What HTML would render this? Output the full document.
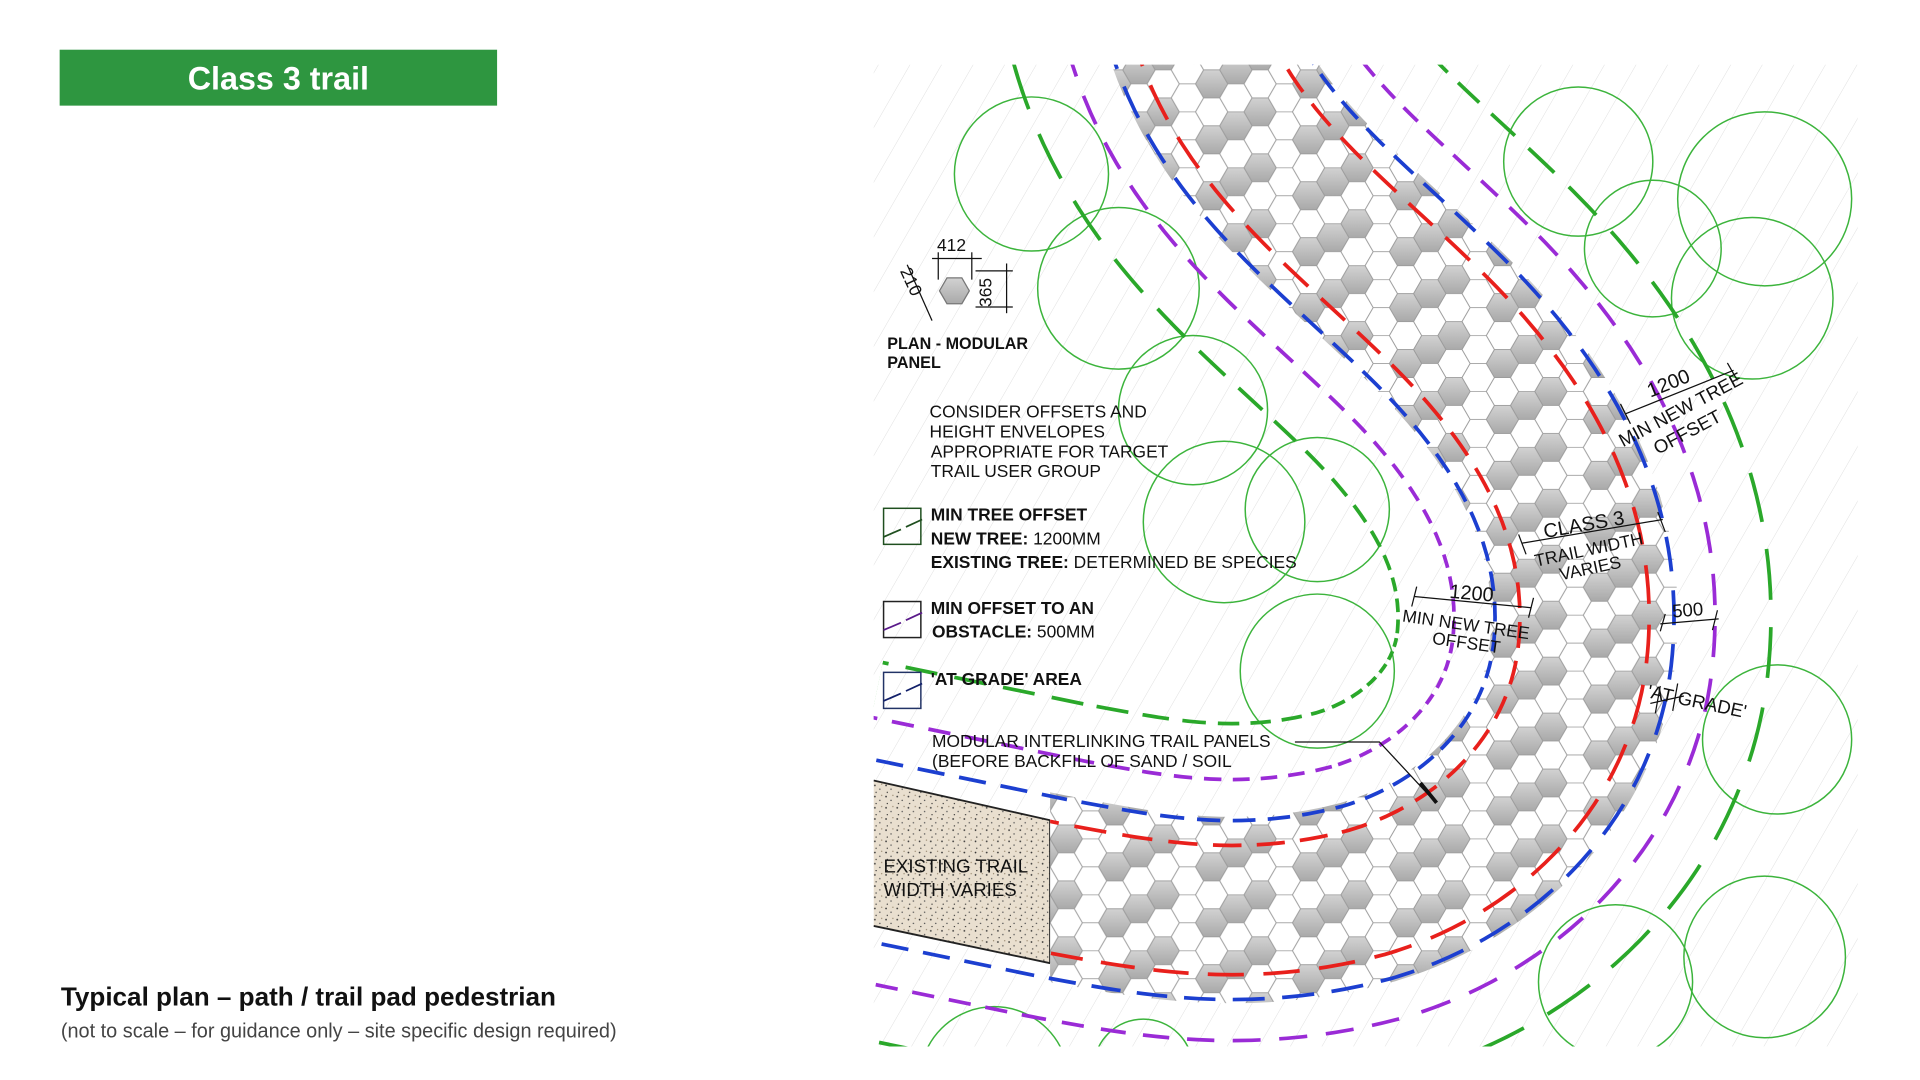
<!DOCTYPE html>
<html><head><meta charset="utf-8"><style>
html,body{margin:0;padding:0;background:#fff;width:1920px;height:1080px;overflow:hidden;}
svg{display:block;}
text{font-family:"Liberation Sans",sans-serif;}
</style></head><body>
<svg width="1920" height="1080" viewBox="0 0 1545 869" preserveAspectRatio="none" xmlns="http://www.w3.org/2000/svg">
<defs>
<linearGradient id="hg" x1="0" y1="0" x2="0" y2="1"><stop offset="0" stop-color="#d2d2d2"/><stop offset="1" stop-color="#a9a9a9"/></linearGradient>
<pattern id="hatch" width="22" height="22" patternUnits="userSpaceOnUse" patternTransform="rotate(30)">
<line x1="0" y1="0" x2="0" y2="22" stroke="#dcdcdc" stroke-width="0.7"/></pattern>
<pattern id="hex" width="78" height="45" patternUnits="userSpaceOnUse" x="0" y="0">
<g stroke="#9a9a9a" stroke-width="0.7">
<path d="M-13 0L-6.5 -11.26L6.5 -11.26L13 0L6.5 11.26L-6.5 11.26Z" fill="url(#hg)"/>
<path d="M65 0L71.5 -11.26L84.5 -11.26L91 0L84.5 11.26L71.5 11.26Z" fill="url(#hg)"/>
<path d="M-13 45L-6.5 33.74L6.5 33.74L13 45L6.5 56.26L-6.5 56.26Z" fill="url(#hg)"/>
<path d="M65 45L71.5 33.74L84.5 33.74L91 45L84.5 56.26L71.5 56.26Z" fill="url(#hg)"/>
<path d="M26 0L32.5 -11.26L45.5 -11.26L52 0L45.5 11.26L32.5 11.26Z" fill="#fff"/>
<path d="M26 45L32.5 33.74L45.5 33.74L52 45L45.5 56.26L32.5 56.26Z" fill="#fff"/>
<path d="M-13 22.5L-6.5 11.24L6.5 11.24L13 22.5L6.5 33.76L-6.5 33.76Z" fill="#fff"/>
<path d="M65 22.5L71.5 11.24L84.5 11.24L91 22.5L84.5 33.76L71.5 33.76Z" fill="#fff"/>
<path d="M26 22.5L32.5 11.24L45.5 11.24L52 22.5L45.5 33.76L32.5 33.76Z" fill="url(#hg)"/>
<path d="M6.5 11.25L13 0L26 0L32.5 11.25L26 22.5L13 22.5Z" fill="#fff"/>
<path d="M45.5 11.25L52 0L65 0L71.5 11.25L65 22.5L52 22.5Z" fill="url(#hg)"/>
<path d="M6.5 33.75L13 22.5L26 22.5L32.5 33.75L26 45L13 45Z" fill="#fff"/>
<path d="M45.5 33.75L52 22.5L65 22.5L71.5 33.75L65 45L52 45Z" fill="#fff"/>
</g></pattern>
<pattern id="sand" width="9" height="9" patternUnits="userSpaceOnUse">
<rect width="9" height="9" fill="#e9dfcf"/><circle cx="2" cy="2" r="0.7" fill="#333"/><circle cx="6" cy="5" r="0.6" fill="#555"/><circle cx="3" cy="7.5" r="0.5" fill="#222"/><circle cx="7.5" cy="1" r="0.5" fill="#8a7a60"/></pattern>
<clipPath id="area"><rect x="703" y="52" width="792" height="790"/></clipPath>
<clipPath id="bandclip"><rect x="845" y="40" width="700" height="820"/></clipPath>
<path id="c" d="M960 10 C990 120,1080 180,1160 260 C1245 345,1282 430,1274 520 C1266 615,1195 690,1100 718 C1000 745,920 728,845 714 L680 680"/>
<mask id="band" maskUnits="userSpaceOnUse" x="0" y="0" width="1545" height="869"><use href="#c" stroke="#fff" stroke-width="150" fill="none"/></mask>
<mask id="r52" maskUnits="userSpaceOnUse" x="0" y="0" width="1545" height="869"><use href="#c" stroke="#fff" stroke-width="107" fill="none"/><use href="#c" stroke="#000" stroke-width="101" fill="none"/></mask>
<mask id="r72" maskUnits="userSpaceOnUse" x="0" y="0" width="1545" height="869"><use href="#c" stroke="#fff" stroke-width="147" fill="none"/><use href="#c" stroke="#000" stroke-width="141" fill="none"/></mask>
<mask id="r105" maskUnits="userSpaceOnUse" x="0" y="0" width="1545" height="869"><use href="#c" stroke="#fff" stroke-width="213" fill="none"/><use href="#c" stroke="#000" stroke-width="207" fill="none"/></mask>
<mask id="r150" maskUnits="userSpaceOnUse" x="0" y="0" width="1545" height="869"><use href="#c" stroke="#fff" stroke-width="303" fill="none"/><use href="#c" stroke="#000" stroke-width="297" fill="none"/></mask>
</defs>

<rect x="48" y="40" width="352" height="45" fill="#2e9640"/>
<text x="224" y="72" text-anchor="middle" fill="#fff" font-size="26" font-weight="bold">Class 3 trail</text>
<text x="49" y="809" font-size="21" font-weight="bold" fill="#111">Typical plan –  path / trail pad pedestrian</text>
<text x="49" y="835" font-size="16" fill="#444">(not to scale – for guidance only – site specific design required)</text>

<g clip-path="url(#area)">
<rect x="703" y="52" width="792" height="790" fill="#fff"/>
<rect x="703" y="52" width="792" height="790" fill="url(#hatch)"/>
<g fill="none" stroke="#3cb43c" stroke-width="1.2">
<circle cx="830" cy="140" r="62"/><circle cx="900" cy="232" r="65"/><circle cx="960" cy="330" r="60"/>
<circle cx="985" cy="420" r="65"/><circle cx="1060" cy="410" r="58"/><circle cx="1060" cy="540" r="62"/>
<circle cx="1270" cy="130" r="60"/><circle cx="1420" cy="160" r="70"/><circle cx="1330" cy="200" r="55"/><circle cx="1410" cy="240" r="65"/>
<circle cx="1430" cy="595" r="60"/><circle cx="1300" cy="790" r="62"/><circle cx="1420" cy="770" r="65"/><circle cx="800" cy="870" r="60"/><circle cx="920" cy="860" r="40"/>
</g>
<polygon points="703,628 845,660 845,775 703,745" fill="url(#sand)"/>
<line x1="703" y1="628" x2="845" y2="660" stroke="#222" stroke-width="1.5"/>
<line x1="703" y1="745" x2="845" y2="775" stroke="#222" stroke-width="1.5"/>
<line x1="845" y1="660" x2="845" y2="775" stroke="#222" stroke-width="1.5"/>
<g clip-path="url(#bandclip)"><rect x="703" y="0" width="800" height="869" fill="url(#hex)" mask="url(#band)"/></g>
<use href="#c" mask="url(#r150)" stroke="#2aa82a" stroke-width="310" fill="none" stroke-dasharray="26 14"/>
<use href="#c" mask="url(#r105)" stroke="#9a2bd6" stroke-width="220" fill="none" stroke-dasharray="18 12"/>
<use href="#c" mask="url(#r72)" stroke="#1c3fd0" stroke-width="155" fill="none" stroke-dasharray="22 12"/>
<g clip-path="url(#bandclip)"><use href="#c" mask="url(#r52)" stroke="#e8201c" stroke-width="115" fill="none" stroke-dasharray="26 14"/></g>
</g>

<g fill="#111">
<path d="M756 234L762 223.6L774 223.6L780 234L774 244.4L762 244.4Z" fill="url(#hg)" stroke="#777"/>
<g stroke="#111" stroke-width="1" fill="none">
<line x1="750" y1="208" x2="790" y2="208"/><line x1="755" y1="203" x2="755" y2="225"/><line x1="782" y1="203" x2="782" y2="225"/>
<line x1="785" y1="218" x2="815" y2="218"/><line x1="785" y1="247" x2="815" y2="247"/><line x1="810" y1="212" x2="810" y2="252"/>
<line x1="730" y1="213" x2="750" y2="258"/>
</g>
<text x="754" y="202" font-size="14">412</text>
<text x="0" y="0" font-size="14" transform="translate(798,247) rotate(-90)">365</text>
<text x="0" y="0" font-size="14" transform="translate(724,218) rotate(65)">210</text>
<text x="714" y="281" font-size="13" font-weight="bold">PLAN - MODULAR</text>
<text x="714" y="296" font-size="13" font-weight="bold">PANEL</text>
<text x="748" y="336" font-size="14">CONSIDER OFFSETS AND</text>
<text x="748" y="352" font-size="14">HEIGHT ENVELOPES</text>
<text x="749" y="368" font-size="14">APPROPRIATE FOR TARGET</text>
<text x="749" y="384" font-size="14">TRAIL USER GROUP</text>
<text x="749" y="419" font-size="14" font-weight="bold">MIN TREE OFFSET</text>
<text x="749" y="438" font-size="14"><tspan font-weight="bold">NEW TREE:</tspan> 1200MM</text>
<text x="749" y="457" font-size="14"><tspan font-weight="bold">EXISTING TREE:</tspan> DETERMINED BE SPECIES</text>
<text x="749" y="494" font-size="14" font-weight="bold">MIN OFFSET TO AN</text>
<text x="750" y="513" font-size="14"><tspan font-weight="bold">OBSTACLE:</tspan> 500MM</text>
<text x="749" y="551" font-size="14" font-weight="bold">'AT GRADE' AREA</text>
<rect x="711" y="409" width="30" height="29" fill="none" stroke="#1f4f1f" stroke-width="1.2"/>
<path d="M711 432L725 426M729 424L742 418" stroke="#1f4f1f" stroke-width="1.4"/>
<rect x="711" y="484" width="30" height="29" fill="none" stroke="#222" stroke-width="1.2"/>
<path d="M711 507L725 501M729 499L742 493" stroke="#5a1a8a" stroke-width="1.4"/>
<rect x="711" y="541" width="30" height="29" fill="none" stroke="#223366" stroke-width="1.2"/>
<path d="M711 564L725 558M729 556L742 550" stroke="#12206a" stroke-width="1.4"/>
<text x="750" y="601" font-size="14">MODULAR INTERLINKING TRAIL PANELS</text>
<text x="750" y="617" font-size="14">(BEFORE BACKFILL OF SAND / SOIL</text>
<path d="M1042 597L1110 597L1150 640" stroke="#111" stroke-width="1" fill="none"/>
<path d="M1143 630L1156 646" stroke="#111" stroke-width="3"/>
<text x="711" y="702" font-size="15">EXISTING TRAIL</text>
<text x="711" y="721" font-size="15">WIDTH VARIES</text>
<g stroke="#111" stroke-width="1">
<line x1="1308" y1="333" x2="1395" y2="298"/><line x1="1304" y1="325" x2="1312" y2="341"/><line x1="1390" y1="292" x2="1398" y2="306"/>
<line x1="1225" y1="437" x2="1338" y2="418"/><line x1="1222" y1="430" x2="1228" y2="446"/><line x1="1334" y1="412" x2="1340" y2="428"/>
<line x1="1138" y1="480" x2="1232" y2="489"/><line x1="1140" y1="472" x2="1136" y2="488"/><line x1="1234" y1="481" x2="1230" y2="497"/>
<line x1="1336" y1="502" x2="1383" y2="498"/><line x1="1340" y1="494" x2="1336" y2="508"/><line x1="1382" y1="491" x2="1378" y2="507"/>
<line x1="1328" y1="566" x2="1355" y2="560"/><line x1="1336" y1="552" x2="1332" y2="574"/><line x1="1350" y1="550" x2="1346" y2="572"/>
</g>
<text font-size="16" transform="translate(1328,320) rotate(-22)">1200</text>
<text font-size="15" transform="translate(1306,360) rotate(-28)">MIN NEW TREE</text>
<text font-size="15" transform="translate(1334,366) rotate(-28)">OFFSET</text>
<text font-size="16" transform="translate(1243,433) rotate(-10)">CLASS 3</text>
<text font-size="14" transform="translate(1236,456) rotate(-12)">TRAIL WIDTH</text>
<text font-size="14" transform="translate(1256,467) rotate(-12)">VARIES</text>
<text font-size="16" transform="translate(1166,481) rotate(5)">1200</text>
<text font-size="14" transform="translate(1128,500) rotate(8)">MIN NEW TREE</text>
<text font-size="14" transform="translate(1152,518) rotate(8)">OFFSET</text>
<text font-size="15" transform="translate(1346,497) rotate(-5)">500</text>
<text font-size="15" transform="translate(1325,561) rotate(12)">'AT GRADE'</text>
</g>
</svg>
</body></html>
